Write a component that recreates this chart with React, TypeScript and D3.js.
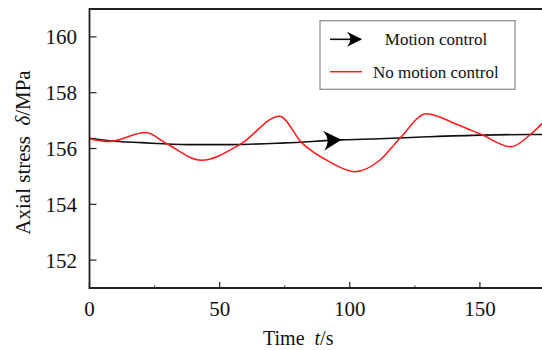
import React from "react";
import * as d3 from "d3";

const motionT = [0, 7.5, 20, 38, 54, 75, 96.8, 111.5, 130, 150.6, 169, 180];
const motionV = [156.37, 156.28, 156.21, 156.14, 156.14, 156.2, 156.31, 156.35, 156.42, 156.48, 156.5, 156.5];

const noMotionT = [0, 7.5, 21.6, 29.5, 43, 58.4, 73, 81.5, 92.3, 102, 111.5, 119.2, 129.5, 141, 150.6, 162, 169, 178];
const noMotionV = [156.35, 156.25, 156.57, 156.18, 155.58, 156.18, 157.16, 156.21, 155.52, 155.17, 155.58, 156.36, 157.25, 156.87, 156.5, 156.06, 156.47, 157.3];

const xMajor = [0, 50, 100, 150];
const xMinor = [25, 75, 125, 175];
const yMajor = [152, 154, 156, 158, 160];
const legendLabels = ["Motion control", "No motion control"];
const arrowT = 96.8;

const W = 542;
const H = 350;
const L = 89.5;
const T = 9;
const B = 288;
const R = 558;

export default function App() {
  const x = d3.scaleLinear().domain([0, 180]).range([L, R]);
  const y = d3.scaleLinear().domain([151, 161]).range([B, T]);
  const motion = motionT.map((t, i) => [t, motionV[i]] as [number, number]);
  const noMotion = noMotionT.map((t, i) => [t, noMotionV[i]] as [number, number]);
  const smooth = d3
    .line<[number, number]>()
    .x((d) => x(d[0]))
    .y((d) => y(d[1]))
    .curve(d3.curveMonotoneX);

  const interp = d3.scaleLinear().domain(motionT).range(motionV);
  const ax = x(arrowT);
  const ay = y(interp(arrowT));
  const ay2 = y(interp(arrowT - 5));
  const ang = (Math.atan2(ay - ay2, ax - x(arrowT - 5)) * 180) / Math.PI;
  const arrowPath = (len: number, hw: number) =>
    `M0,0 L${-len},${-hw} Q${-len * 0.55},0 ${-len},${hw} Z`;

  const font = "'Liberation Serif', 'Times New Roman', serif";

  return (
    <svg
      width={W}
      height={H}
      style={{ position: "absolute", left: 0, top: 0, background: "#fff" }}
      fontFamily={font}
    >
      <defs>
        <clipPath id="plot">
          <rect x={L} y={T} width={R - L} height={B - T} />
        </clipPath>
      </defs>
      <g clipPath="url(#plot)">
        <path d={smooth(motion) || ""} fill="none" stroke="#111" strokeWidth={1.6} />
        <path d={smooth(noMotion) || ""} fill="none" stroke="#ff1a1a" strokeWidth={1.5} />
        <path
          d={arrowPath(18, 10)}
          transform={`translate(${ax},${ay}) rotate(${ang})`}
          fill="#000"
        />
      </g>
      <path
        d={`M${R},${T} L${L},${T} L${L},${B} L${R},${B}`}
        fill="none"
        stroke="#222"
        strokeWidth={1.8}
      />
      {xMajor.map((v) => (
        <g key={"xm" + v}>
          <line x1={x(v)} x2={x(v)} y1={B} y2={B - 6} stroke="#222" strokeWidth={1.2} />
          <text x={x(v)} y={316} fontSize={21} textAnchor="middle" fill="#111">
            {v}
          </text>
        </g>
      ))}
      {xMinor.map((v) => (
        <line key={"xn" + v} x1={x(v)} x2={x(v)} y1={B} y2={B - 2.5} stroke="#222" strokeWidth={1} />
      ))}
      {yMajor.map((v) => (
        <g key={"ym" + v}>
          <line x1={L} x2={L + 7} y1={y(v)} y2={y(v)} stroke="#222" strokeWidth={1.2} />
          <text x={77} y={y(v) + 7.5} fontSize={21} textAnchor="end" fill="#111">
            {v}
          </text>
        </g>
      ))}
      <text x={263} y={345} fontSize={20} fill="#111">
        Time{"\u00a0\u00a0"}
        <tspan fontStyle="italic">t</tspan>/s
      </text>
      <text
        transform={`translate(30,152.5) rotate(-90)`}
        fontSize={21}
        textAnchor="middle"
        fill="#111"
      >
        Axial stress{"\u00a0\u00a0"}
        <tspan fontStyle="italic">δ</tspan>/MPa
      </text>
      <rect x={320} y={20.7} width={195} height={68.6} fill="#fff" stroke="#888" strokeWidth={1.2} />
      <line x1={330} x2={361} y1={39.3} y2={39.3} stroke="#111" strokeWidth={1.6} />
      <path d={arrowPath(15, 7.5)} transform={`translate(362,39.3)`} fill="#000" />
      <text x={436} y={45} fontSize={17} textAnchor="middle" fill="#111">
        {legendLabels[0]}
      </text>
      <line x1={330} x2={362} y1={71.7} y2={71.7} stroke="#ff1a1a" strokeWidth={1.5} />
      <text x={373} y={77.5} fontSize={17} fill="#111">
        {legendLabels[1]}
      </text>
    </svg>
  );
}
